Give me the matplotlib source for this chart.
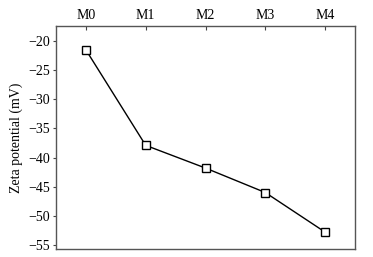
import matplotlib
matplotlib.use("Agg")
import matplotlib.pyplot as plt

samples = ["M0", "M1", "M2", "M3", "M4"]
zeta = [-21.5, -37.9, -41.8, -46.0, -52.8]

plt.rcParams["font.family"] = ["Liberation Serif", "DejaVu Serif"]
plt.rcParams["font.size"] = 10

fig = plt.figure(figsize=(3.73, 2.57), dpi=100)
ax = fig.add_axes([56 / 373, 1 - 249 / 257, (355 - 56) / 373, (249 - 26) / 257])

x = list(range(len(samples)))
ax.plot(x, zeta, color="black", lw=1.0, marker="s", markersize=5.5,
        markerfacecolor="white", markeredgecolor="black", markeredgewidth=1.0)

ax.set_xlim(-0.5, 4.5)
ax.set_ylim(-55.7, -17.4)
ax.set_xticks(x)
ax.set_xticklabels(samples)
ax.xaxis.tick_top()
ax.set_yticks([-20, -25, -30, -35, -40, -45, -50, -55])
ax.set_yticklabels(["\u221220", "\u221225", "\u221230", "\u221235",
                    "\u221240", "\u221245", "\u221250", "\u221255"])
ax.tick_params(axis="x", direction="in", length=3, width=0.8, pad=3,
               color="#444444", labelsize=10)
ax.tick_params(axis="y", direction="out", length=2, width=0.8, pad=2,
               color="#444444", labelsize=10)
for s in ax.spines.values():
    s.set_color("#555555")
    s.set_linewidth(1.0)
ax.set_ylabel("Zeta potential (mV)", fontsize=10, labelpad=4)

fig.savefig("out.png", dpi=100)
